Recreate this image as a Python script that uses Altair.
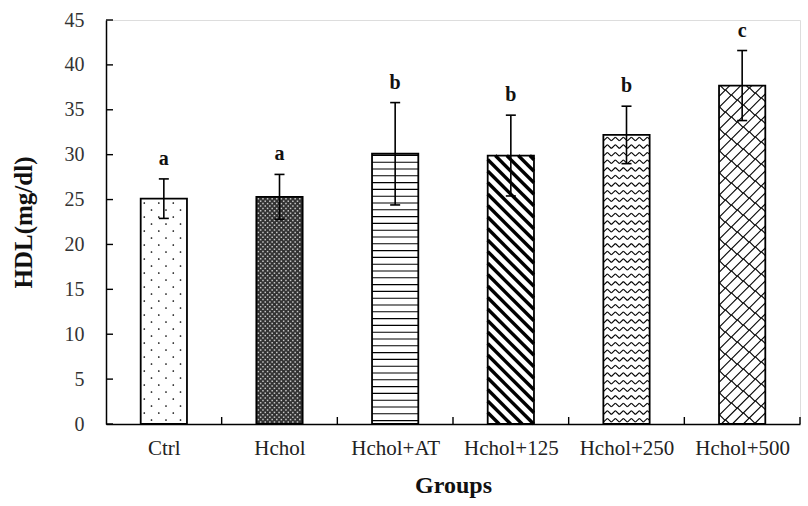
import altair as alt
import numpy as np
import pandas as pd

# ---- data -------------------------------------------------------------
groups = ["Ctrl", "Hchol", "Hchol+AT", "Hchol+125", "Hchol+250", "Hchol+500"]
means = [25.1, 25.3, 30.1, 29.9, 32.2, 37.7]
sds = [2.2, 2.5, 5.7, 4.5, 3.2, 3.9]
letters = ["a", "a", "b", "b", "b", "c"]
patterns = ["dots", "dense", "hlines", "diag", "zigzag", "bricks"]
y_ticks = [0, 5, 10, 15, 20, 25, 30, 35, 40, 45]

# ---- geometry of the plot area -----------------------------------------
W, H = 694, 404
Y_MAX = 45
HALF = 0.2                      # half bar width, in category units
KX = W / len(groups)            # pixels per category unit
KY = H / Y_MAX                  # pixels per y unit
FONT = "Liberation Serif"

n = len(groups)
idx = list(range(n))

bars = pd.DataFrame({
    "i": idx, "group": groups, "mean": means, "sd": sds, "letter": letters,
    "lo": [m - s for m, s in zip(means, sds)],
    "hi": [m + s for m, s in zip(means, sds)],
    "left": [i - HALF for i in idx], "right": [i + HALF for i in idx],
    "fillc": ["#333333" if p == "dense" else "white" for p in patterns],
})
bars["capl"] = bars["i"] - 5 / KX
bars["capr"] = bars["i"] + 5 / KX


# ---- hatch fills, built in bar-local pixel space then mapped to data ----
def clip(x1, y1, x2, y2, w, h):
    """Liang-Barsky clip of a segment to the box [0,w] x [0,h]."""
    dx, dy = x2 - x1, y2 - y1
    t0, t1 = 0.0, 1.0
    for p, q in ((-dx, x1), (dx, w - x1), (-dy, y1), (dy, h - y1)):
        if p == 0:
            if q < 0:
                return None
            continue
        r = q / p
        if p < 0:
            t0 = max(t0, r)
        else:
            t1 = min(t1, r)
        if t0 > t1:
            return None
    return (x1 + t0 * dx, y1 + t0 * dy, x1 + t1 * dx, y1 + t1 * dy)


def hatch(kind, w, h):
    segs, pts = [], []
    if kind == "dots":
        r = 0
        y = 4.0
        while y < h - 1:
            x = 3.6 if r % 2 else 10.8
            while x < w - 1:
                pts.append((x, y, "dot"))
                x += 14.5
            y += 7.0
            r += 1
    elif kind == "dense":
        r = 0
        y = 2.0
        while y < h - 1:
            x = 2.0 if r % 2 else 4.3
            while x < w - 1:
                pts.append((x, y, "light"))
                x += 4.6
            y += 2.4
            r += 1
    elif kind == "hlines":
        y = 3.4
        while y < h - 1:
            segs.append((0, y, w, y, "thin"))
            y += 6.8
    elif kind == "diag":
        c = 0.0
        while c < h + w:
            s = clip(0, c, c, 0, w, h)
            if s:
                segs.append((*s, "thick"))
            c += 11.5
    elif kind == "zigzag":
        y = 3.8
        while y < h - 2:
            x = 0.0
            up = False
            while x < w:
                ya = y + (1.9 if up else -1.9)
                yb = y + (-1.9 if up else 1.9)
                s = clip(x, ya, x + 4.0, yb, w, h)
                if s:
                    segs.append((*s, "thin"))
                x += 4.0
                up = not up
            y += 7.6
    elif kind == "bricks":
        d, period = 11.0, 12.0
        k = 0
        c = -w - d
        while c < h + d:
            s = clip(-5, c - 5, w + 5, c + w + 5, w, h)
            if s:
                segs.append((*s, "thin"))
            xa = (period / 2 if k % 2 else 0.0) - period
            while xa < w + d:
                s = clip(xa, c + xa, xa - d / 2, c + xa + d / 2, w, h)
                if s:
                    segs.append((*s, "thin"))
                xa += period
            c += d
            k += 1
    return segs, pts


seg_rows, pt_rows = [], []
bw = 2 * HALF * KX
for i, (m, kind) in enumerate(zip(means, patterns)):
    segs, pts = hatch(kind, bw, m * KY)
    x0 = i - HALF
    for x1, y1, x2, y2, st in segs:
        seg_rows.append({"x": x0 + x1 / KX, "x2": x0 + x2 / KX,
                         "y": y1 / KY, "y2": y2 / KY, "style": st})
    for px, py, st in pts:
        pt_rows.append({"x": x0 + px / KX, "y": py / KY, "style": st})

segs_df = pd.DataFrame(seg_rows)
pts_df = pd.DataFrame(pt_rows)

# ---- scales ----------------------------------------------------------
xs = alt.Scale(domain=[-0.5, n - 0.5], nice=False, zero=False)
ys = alt.Scale(domain=[0, Y_MAX], nice=False)
label_expr = "[" + ",".join(f"'{g}'" for g in groups) + "][datum.value]"

x_axis = alt.Axis(values=idx, labelExpr=label_expr, title="Groups", ticks=False,
                  grid=False, domainColor="black", domainWidth=1.5,
                  labelFont=FONT, labelFontSize=21, labelColor="#222",
                  labelPadding=13, titleFont=FONT, titleFontSize=24,
                  titleFontWeight="bold", titleColor="#111", titlePadding=15)
y_axis = alt.Axis(values=y_ticks, title="HDL(mg/dl)", ticks=False, tickSize=0,
                  grid=False, domainColor="black", domainWidth=1.5,
                  labelFont=FONT, labelFontSize=20, labelColor="#333",
                  labelPadding=22, titleFont=FONT, titleFontSize=25,
                  titleFontWeight="bold", titleColor="#111", titlePadding=28)

base = alt.Chart(bars)

fill = base.mark_rect(stroke=None).encode(
    x=alt.X("left:Q", scale=xs, axis=x_axis),
    x2="right:Q",
    y=alt.Y("mean:Q", scale=ys, axis=y_axis),
    y2=alt.datum(0),
    fill=alt.Fill("fillc:N", scale=None),
)

seg_base = alt.Chart(segs_df).encode(
    x=alt.X("x:Q", scale=xs), x2="x2:Q",
    y=alt.Y("y:Q", scale=ys), y2="y2:Q",
)
thin = seg_base.mark_rule(color="black", strokeWidth=1.1).transform_filter(
    alt.datum.style == "thin")
thick = seg_base.mark_rule(color="black", strokeWidth=3.4).transform_filter(
    alt.datum.style == "thick")

pt_base = alt.Chart(pts_df).encode(x=alt.X("x:Q", scale=xs), y=alt.Y("y:Q", scale=ys))
dots = pt_base.mark_circle(color="black", size=3, opacity=1).transform_filter(
    alt.datum.style == "dot")
light = pt_base.mark_square(color="#c8c8c8", size=2.2, opacity=1).transform_filter(
    alt.datum.style == "light")

outline = base.mark_rect(fill=None, stroke="black", strokeWidth=1.8).encode(
    x=alt.X("left:Q", scale=xs), x2="right:Q",
    y=alt.Y("mean:Q", scale=ys), y2=alt.datum(0),
)

err = base.mark_rule(color="black", strokeWidth=1.6).encode(
    x=alt.X("i:Q", scale=xs), y=alt.Y("lo:Q", scale=ys), y2="hi:Q")
cap_hi = base.mark_rule(color="black", strokeWidth=1.6).encode(
    x=alt.X("capl:Q", scale=xs), x2="capr:Q", y=alt.Y("hi:Q", scale=ys))
cap_lo = base.mark_rule(color="black", strokeWidth=1.6).encode(
    x=alt.X("capl:Q", scale=xs), x2="capr:Q", y=alt.Y("lo:Q", scale=ys))

sig = base.mark_text(font=FONT, fontSize=20, fontWeight="bold", color="#111",
                     baseline="bottom", dy=-10).encode(
    x=alt.X("i:Q", scale=xs), y=alt.Y("hi:Q", scale=ys), text="letter:N")

# inward tick marks on both axes
ytick_df = pd.DataFrame({"v": y_ticks})
ytick = alt.Chart(ytick_df).mark_rule(color="black", strokeWidth=1.4).encode(
    y=alt.Y("v:Q", scale=ys), x=alt.value(0), x2=alt.value(7))
xtick_df = pd.DataFrame({"v": [k + 0.5 for k in range(n)]})
xtick = alt.Chart(xtick_df).mark_rule(color="black", strokeWidth=1.4).encode(
    x=alt.X("v:Q", scale=xs), y=alt.value(H), y2=alt.value(H - 7))

chart = alt.layer(
    fill, thin, thick, dots, light, outline, err, cap_hi, cap_lo, sig, ytick, xtick
).properties(
    width=W, height=H,
    autosize=alt.AutoSizeParams(type="none"),
    padding={"left": 106, "top": 20, "right": 8, "bottom": 82},
).configure_view(stroke=None).configure(background="white")

chart.save("out.html", embed_options={"renderer": "svg", "actions": False})
